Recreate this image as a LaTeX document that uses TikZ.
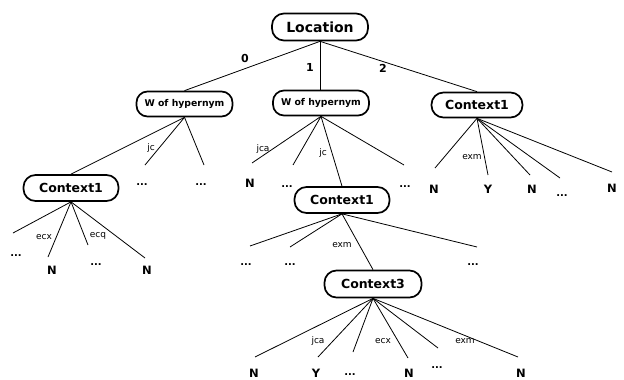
\documentclass[tikz,border=0pt]{standalone}
\usepackage{fontspec}
\setmainfont{DejaVu Sans}
\begin{document}
\begin{tikzpicture}[x=1pt,y=-1pt,
 box/.style={draw, line width=1.7pt, rounded corners=12pt, inner sep=1pt, font=\bfseries\fontsize{12.5}{14}\selectfont, minimum height=26pt, minimum width=95pt},
 wbox/.style={draw, line width=1.7pt, rounded corners=11pt, inner sep=0pt, font=\bfseries\fontsize{9.3}{11}\selectfont, minimum height=25pt, minimum width=96pt},
 lbl/.style={font=\fontsize{9}{10}\selectfont, inner sep=0pt},
 num/.style={font=\bfseries\fontsize{11}{12}\selectfont, inner sep=0pt},
 leaf/.style={font=\bfseries\fontsize{11.5}{13}\selectfont, inner sep=0pt},
 dots/.style={font=\bfseries\fontsize{10}{11}\selectfont, inner sep=0pt},
 edge/.style={line width=0.8pt}]
\useasboundingbox (0,0) rectangle (624,380);

% main nodes
\node[box, font=\bfseries\fontsize{14}{16}\selectfont, minimum width=96pt, minimum height=27pt] (loc) at (320,27) {Location};
\node[wbox] (wL) at (184.5,104) {W of hypernym};
\node[wbox] (wM) at (321,103) {W of hypernym};
\node[box, minimum width=91pt, minimum height=25pt] (cR) at (477,105) {Context1};
\node[box] (cL) at (71,188) {Context1};
\node[box] (cM) at (342,200) {Context1};
\node[box, minimum width=97pt, minimum height=27pt] (c3) at (373,284) {Context3};

% top edges
\draw[edge] (loc.south) -- (wL.north);
\draw[edge] (loc.south) -- (loc.south |- wM.north);
\draw[edge] (loc.south) -- (cR.north);
\node[num] (n0) at (245,58) {0};
\node[num] (n1) at (310,67) {1};
\node[num] (n2) at (383,68) {2};

% children of left W of hypernym
\coordinate (a1) at (145,165);
\coordinate (a2) at (204,165);
\draw[edge] (wL.south) -- (cL.north);
\draw[edge] (wL.south) -- (a1);
\draw[edge] (wL.south) -- (a2);
\node[lbl] (ljc1) at (151,148) {jc};
\node[dots] (d1) at (142,185) {...};
\node[dots] (d2) at (201,185) {...};

% children of middle W of hypernym
\coordinate (b1) at (252,163);
\coordinate (b2) at (293,165);
\coordinate (b4) at (404,165);
\draw[edge] (wM.south) -- (b1);
\draw[edge] (wM.south) -- (b2);
\draw[edge] (wM.south) -- (cM.north);
\draw[edge] (wM.south) -- (b4);
\node[lbl] (ljca1) at (263,149) {jca};
\node[lbl] (ljc2) at (323,153) {jc};
\node[leaf] (bN) at (250,183) {N};
\node[dots] (bd2) at (287,187) {...};
\node[dots] (bd4) at (405,187) {...};

% children of right Context1
\coordinate (r1) at (435,168);
\coordinate (r2) at (488,175);
\coordinate (r3) at (530,175);
\coordinate (r4) at (560,178);
\coordinate (r5) at (612,172);
\draw[edge] (cR.south) -- (r1);
\draw[edge] (cR.south) -- (r2);
\draw[edge] (cR.south) -- (r3);
\draw[edge] (cR.south) -- (r4);
\draw[edge] (cR.south) -- (r5);
\node[lbl] (lexm1) at (472,157) {exm};
\node[leaf] (rN1) at (434,189) {N};
\node[leaf] (rY) at (488,189) {Y};
\node[leaf] (rN2) at (532,189) {N};
\node[dots] (rd) at (562,196) {...};
\node[leaf] (rN3) at (612,188) {N};

% children of left Context1
\coordinate (e1) at (13,233);
\coordinate (e2) at (48,257);
\coordinate (e3) at (88,245);
\coordinate (e4) at (145,258);
\draw[edge] (cL.south) -- (e1);
\draw[edge] (cL.south) -- (e2);
\draw[edge] (cL.south) -- (e3);
\draw[edge] (cL.south) -- (e4);
\node[lbl] (lecx1) at (44,237) {ecx};
\node[lbl] (lecq) at (98,236) {ecq};
\node[dots] (ed1) at (16,256) {...};
\node[leaf] (eN1) at (52,270) {N};
\node[dots] (ed3) at (96,265) {...};
\node[leaf] (eN2) at (147,270) {N};

% children of middle Context1
\coordinate (m1) at (250,246);
\coordinate (m2) at (290,247);
\coordinate (m4) at (477,247);
\draw[edge] (cM.south) -- (m1);
\draw[edge] (cM.south) -- (m2);
\draw[edge] (cM.south) -- (c3.north);
\draw[edge] (cM.south) -- (m4);
\node[lbl] (lexm2) at (342,245) {exm};
\node[dots] (md1) at (246,265) {...};
\node[dots] (md2) at (290,265) {...};
\node[dots] (md4) at (473,265) {...};

% children of Context3
\coordinate (k1) at (255,357);
\coordinate (k2) at (318,357);
\coordinate (k3) at (353,352);
\coordinate (k4) at (408,358);
\coordinate (k5) at (438,348);
\coordinate (k6) at (518,357);
\draw[edge] (c3.south) -- (k1);
\draw[edge] (c3.south) -- (k2);
\draw[edge] (c3.south) -- (k3);
\draw[edge] (c3.south) -- (k4);
\draw[edge] (c3.south) -- (k5);
\draw[edge] (c3.south) -- (k6);
\node[lbl] (ljca2) at (318,341) {jca};
\node[lbl] (lecx2) at (383,341) {ecx};
\node[lbl] (lexm3) at (465,341) {exm};
\node[leaf] (kN1) at (254,373) {N};
\node[leaf] (kY) at (316,373) {Y};
\node[dots] (kd3) at (350,375) {...};
\node[leaf] (kN2) at (409,373) {N};
\node[dots] (kd5) at (437,368) {...};
\node[leaf] (kN3) at (521,373) {N};
\end{tikzpicture}
\end{document}
